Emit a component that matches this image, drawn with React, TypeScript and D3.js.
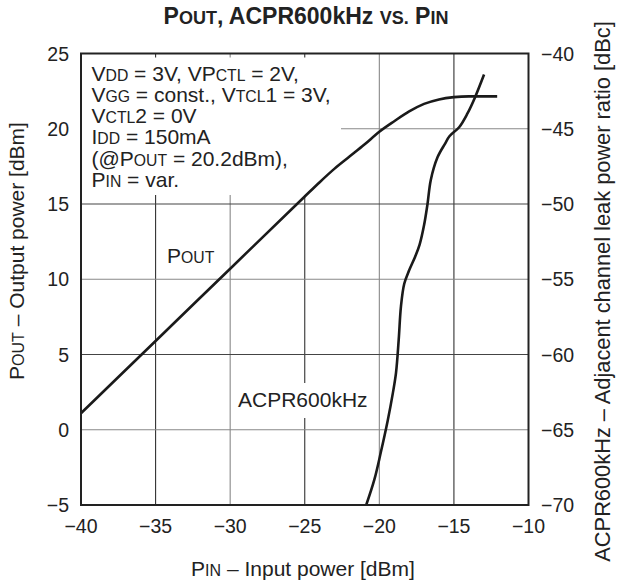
import React from "react";
import * as d3 from "d3";

const xTicks = [-40, -35, -30, -25, -20, -15, -10];
const yLeftTicks = [-5, 0, 5, 10, 15, 20, 25];
const yRightTicks = [-70, -65, -60, -55, -50, -45, -40];

const poutPin = [-40, -35, -30, -25, -24, -23, -22, -21, -20, -19, -18, -17, -16, -15, -14, -12.1];
const poutVal = [1.1, 5.9, 10.7, 15.5, 16.45, 17.35, 18.15, 18.95, 19.8, 20.5, 21.15, 21.65, 21.95, 22.1, 22.15, 22.15];

const acprPin = [-20.88, -20.33, -19.9, -19.44, -19.1, -18.88, -18.7, -18.55, -18.33, -18.0, -17.6, -17.3, -17.0, -16.77, -16.55, -16.1, -15.6, -15.3, -14.65, -14.1, -13.58, -12.98];
const acprVal = [-70, -68.3, -66.5, -64.4, -62.6, -61.2, -59.0, -56.8, -55.3, -54.4, -53.5, -52.7, -51.4, -50.0, -48.4, -46.9, -46.0, -45.5, -44.9, -44.0, -42.9, -41.4];

const gridDarkX = [-35, -25, -15];
const gridDarkY = [15, 5];

const FONT = "'Liberation Sans', Arial, Helvetica, sans-serif";

const SC = ({ children, size }: { children: any; size: number }) => (
  <tspan fontSize={size}>{children}</tspan>
);

export default function App() {
  const L = 81, R = 528.5, T = 53.5, B = 505;
  const x = d3.scaleLinear().domain([-40, -10]).range([L, R]);
  const yL = d3.scaleLinear().domain([-5, 25]).range([B, T]);
  const yR = d3.scaleLinear().domain([-70, -40]).range([B, T]);

  const poutData = poutPin.map((p, i) => [p, poutVal[i]] as [number, number]);
  const acprData = acprPin.map((p, i) => [p, acprVal[i]] as [number, number]);

  const poutLine = d3
    .line<[number, number]>()
    .x((d) => x(d[0]))
    .y((d) => yL(d[1]))
    .curve(d3.curveMonotoneX);
  const acprLine = d3
    .line<[number, number]>()
    .x((d) => x(d[0]))
    .y((d) => yR(d[1]))
    .curve(d3.curveCatmullRom.alpha(0.5));

  const tickFs = 19.5;
  const annFs = 21;
  const sc = annFs * 0.75;
  const annX = 91.5;
  const annY0 = 80.7;
  const annDy = 21.2;

  return (
    <svg
      width={619}
      height={584}
      style={{ position: "absolute", left: 0, top: 0, background: "#fff" }}
      fontFamily={FONT}
    >
      <rect x={0} y={0} width={619} height={584} fill="#fff" />
      {/* title */}
      <text x={306} y={23.5} textAnchor="middle" fontWeight="bold" fontSize={23} fill="#222">
        P<SC size={18}>OUT</SC>, ACPR600kHz <SC size={18}>VS.</SC> P<SC size={18}>IN</SC>
      </text>

      {/* grid */}
      {xTicks.slice(1, -1).map((t) => (
        <line
          key={"gx" + t}
          x1={x(t)}
          x2={x(t)}
          y1={T}
          y2={B}
          stroke={gridDarkX.includes(t) ? "#333" : "#888"}
          strokeWidth={1.1}
        />
      ))}
      {yLeftTicks.slice(1, -1).map((t) => (
        <line
          key={"gy" + t}
          x1={L}
          x2={R}
          y1={yL(t)}
          y2={yL(t)}
          stroke={gridDarkY.includes(t) ? "#444" : "#888"}
          strokeWidth={1.1}
        />
      ))}

      {/* white boxes behind labels */}
      <rect x={L + 1} y={57.5} width={341 - L - 1} height={195 - 57.5} fill="#fff" />
      <rect x={233} y={383} width={140} height={35} fill="#fff" />

      {/* curves */}
      <path d={poutLine(poutData) || ""} fill="none" stroke="#1a1a1a" strokeWidth={2.6} />
      <path d={acprLine(acprData) || ""} fill="none" stroke="#1a1a1a" strokeWidth={2.6} />

      {/* frame */}
      <rect x={L} y={T} width={R - L} height={B - T} fill="none" stroke="#222" strokeWidth={2} />

      {/* annotation */}
      <g fontSize={annFs} fill="#222">
        <text x={annX} y={annY0}>
          V<SC size={sc}>DD</SC> = 3V, VP<SC size={sc}>CTL</SC> = 2V,
        </text>
        <text x={annX} y={annY0 + annDy}>
          V<SC size={sc}>GG</SC> = const., V<SC size={sc}>TCL</SC>1 = 3V,
        </text>
        <text x={annX} y={annY0 + annDy * 2}>
          V<SC size={sc}>CTL</SC>2 = 0V
        </text>
        <text x={annX} y={annY0 + annDy * 3}>
          I<SC size={sc}>DD</SC> = 150mA
        </text>
        <text x={annX} y={annY0 + annDy * 4}>
          (@P<SC size={sc}>OUT</SC> = 20.2dBm),
        </text>
        <text x={annX} y={annY0 + annDy * 5}>
          P<SC size={sc}>IN</SC> = var.
        </text>
      </g>

      {/* curve labels */}
      <text x={167} y={263} fontSize={annFs} fill="#222">
        P<SC size={sc}>OUT</SC>
      </text>
      <text x={238} y={406.7} fontSize={annFs} fill="#222">
        ACPR600kHz
      </text>

      {/* ticks */}
      <g fontSize={tickFs} fill="#222">
        {yLeftTicks.map((t) => (
          <text key={"yl" + t} x={69} y={yL(t)} dy="0.36em" textAnchor="end">
            {t < 0 ? "\u2212" + Math.abs(t) : t}
          </text>
        ))}
        {yRightTicks.map((t) => (
          <text key={"yr" + t} x={541} y={yR(t)} dy="0.36em" textAnchor="start">
            {"\u2212" + Math.abs(t)}
          </text>
        ))}
        {xTicks.map((t) => (
          <text key={"xt" + t} x={x(t)} y={533} textAnchor="middle">
            {"\u2212" + Math.abs(t)}
          </text>
        ))}
      </g>

      {/* axis titles */}
      <text x={303} y={576} textAnchor="middle" fontSize={21} fill="#222">
        P<SC size={16}>IN</SC> – Input power [dBm]
      </text>
      <text
        transform={`translate(24,251) rotate(-90)`}
        textAnchor="middle"
        fontSize={21}
        fill="#222"
      >
        P<SC size={16}>OUT</SC> – Output power [dBm]
      </text>
      <text
        transform={`translate(610,291.5) rotate(-90)`}
        textAnchor="middle"
        fontSize={21.8}
        fill="#222"
      >
        ACPR600kHz – Adjacent channel leak power ratio [dBc]
      </text>
    </svg>
  );
}
